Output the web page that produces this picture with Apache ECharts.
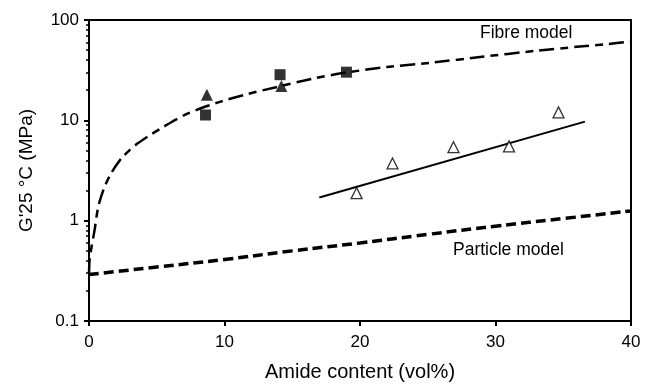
<!DOCTYPE html>
<html>
<head>
<meta charset="utf-8">
<script src="https://cdn.jsdelivr.net/npm/echarts@6/dist/echarts.min.js"></script>
<style>
html,body{margin:0;padding:0;background:#fff;}
#chart{width:651px;height:387px;}
</style>
</head>
<body>
<div id="chart"></div>
<script>
// ---- data ----
const fibreX = [0, 0.04, 0.2, 0.41, 0.6, 0.78, 1.15, 1.65, 2.4, 3.0, 3.6, 4.4, 5.3, 6.2, 7.0, 8.0, 9.6, 11.5, 13.8, 16.5, 19, 22, 25.4, 29, 32.8, 36, 38, 40];
const fibreY = [0.3, 0.4, 0.56, 0.8, 1.2, 1.55, 2.18, 3.0, 4.2, 5.05, 5.9, 7.0, 8.3, 9.8, 11.2, 12.8, 15.2, 18, 21.4, 26, 30, 34, 37.7, 43, 49, 54, 57, 61];
const particleX = [0, 5, 10, 15, 20, 25, 30, 35, 40];
const particleY = [0.29, 0.345, 0.41, 0.5, 0.6, 0.73, 0.88, 1.05, 1.25];
const fitX = [17.0, 36.6];
const fitY = [1.7, 9.7];
const squareX = [8.6, 14.1, 19.0];
const squareY = [11.3, 28.5, 30.2];
const filledTriX = [8.7, 14.2];
const filledTriY = [18.0, 22.0];
const openTriX = [19.75, 22.4, 26.9, 31.0, 34.65];
const openTriY = [1.88, 3.72, 5.4, 5.5, 12.0];
const xTicks = [0, 10, 20, 30, 40];
const yMinorTicks = [0.2,0.3,0.4,0.5,0.6,0.7,0.8,0.9,2,3,4,5,6,7,8,9,20,30,40,50,60,70,80,90];

const zip = (xs, ys) => xs.map((x, i) => [x, ys[i]]);
const FONT = 'Liberation Sans, Arial, sans-serif';

const chart = echarts.init(document.getElementById('chart'), null, {renderer: 'canvas'});
chart.setOption({
  animation: false,
  backgroundColor: '#fff',
  grid: {left: 89, right: 20, top: 20, bottom: 62, show: true, borderColor: '#000', borderWidth: 2, backgroundColor: 'transparent'},
  xAxis: {
    type: 'value', min: xTicks[0], max: xTicks[xTicks.length - 1], interval: 10,
    name: 'Amide content (vol%)', nameLocation: 'middle', nameGap: 41,
    nameTextStyle: {fontSize: 20, fontFamily: FONT, color: '#000'},
    axisLine: {show: true, onZero: false, lineStyle: {color: '#000', width: 2}},
    axisTick: {show: true, inside: false, length: 5, lineStyle: {color: '#000', width: 2}},
    axisLabel: {fontSize: 17, fontFamily: FONT, color: '#000', margin: 13},
    splitLine: {show: false}
  },
  yAxis: [{
    type: 'log', logBase: 10, min: 0.1, max: 100,
    name: "G'25 °C (MPa)", nameLocation: 'middle', nameGap: 53,
    nameTextStyle: {fontSize: 19, fontFamily: FONT, color: '#000'},
    axisLine: {show: true, lineStyle: {color: '#000', width: 2}},
    axisTick: {show: true, inside: false, length: 5, lineStyle: {color: '#000', width: 2}},
    axisLabel: {fontSize: 17, fontFamily: FONT, color: '#000', margin: 10,
      formatter: v => String(+v.toPrecision(3))},
    splitLine: {show: false}
  }, {
    type: 'value', min: -1, max: 2, position: 'left',
    axisLine: {show: false},
    axisTick: {show: true, inside: false, length: 3, customValues: yMinorTicks.map(v => Math.log10(v)), lineStyle: {color: '#000', width: 1.5}},
    axisLabel: {show: false},
    splitLine: {show: false}
  }],
  series: [
    {type: 'line', data: zip(fibreX, fibreY), smooth: 0.2, showSymbol: false, symbol: 'none',
     lineStyle: {color: '#000', width: 2.5, type: [15, 6, 8, 6]}, z: 2},
    {type: 'line', data: zip(particleX, particleY), smooth: true, showSymbol: false, symbol: 'none',
     lineStyle: {color: '#000', width: 3.5, type: [10, 5]}, z: 2},
    {type: 'line', data: zip(fitX, fitY), showSymbol: false, symbol: 'none',
     lineStyle: {color: '#000', width: 2, type: 'solid'}, z: 2},
    {type: 'scatter', data: zip(squareX, squareY), symbol: 'rect', symbolSize: 11,
     itemStyle: {color: '#000'}, z: 3},
    {type: 'scatter', data: zip(filledTriX, filledTriY), symbol: 'triangle', symbolSize: 12,
     itemStyle: {color: '#000'}, z: 3},
    {type: 'scatter', data: zip(openTriX, openTriY), symbol: 'triangle', symbolSize: 11,
     itemStyle: {color: '#fff', borderColor: '#000', borderWidth: 1.3}, z: 3}
  ],
  graphic: [
    {type: 'text', left: 480, top: 24, style: {text: 'Fibre model', fontSize: 17.5, fontFamily: FONT, fill: '#000'}},
    {type: 'text', left: 453, top: 241, style: {text: 'Particle model', fontSize: 17.5, fontFamily: FONT, fill: '#000'}}
  ]
});
</script>
</body>
</html>
